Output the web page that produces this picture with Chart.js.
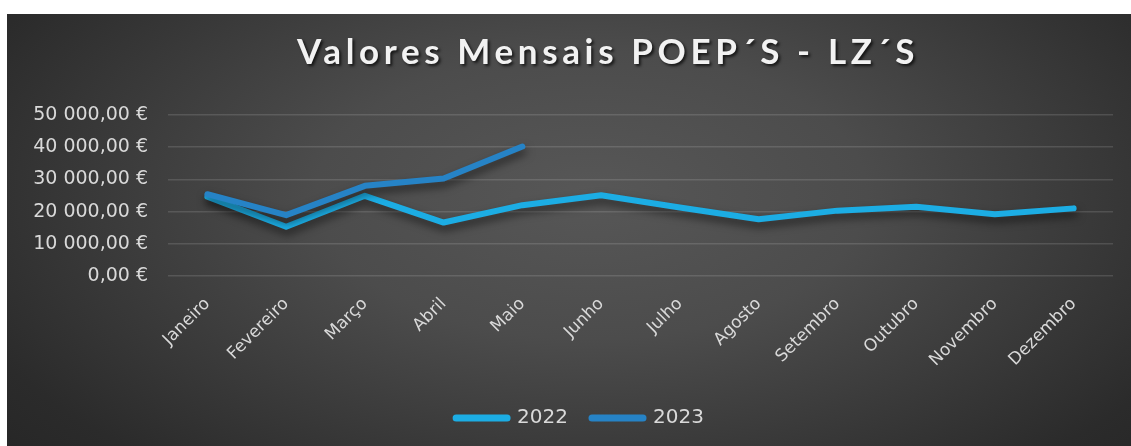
<!DOCTYPE html>
<html>
<head>
<meta charset="utf-8">
<script src="https://cdn.jsdelivr.net/npm/chart.js@4/dist/chart.umd.min.js"></script>
<style>
  html, body { margin: 0; padding: 0; background: #ffffff; }
  #box {
    position: absolute; left: 7px; top: 14px; width: 1124px; height: 432px;
    background: radial-gradient(ellipse 70% 95% at 52% 42%, #575757 0%, #4c4c4c 35%, #2b2b2b 85%, #262626 100%);
  }
</style>
</head>
<body>
<div id="box"><canvas id="chart" width="1124" height="432"></canvas></div>
<script>
// dados
const meses = ["Janeiro", "Fevereiro", "Março", "Abril", "Maio", "Junho", "Julho",
               "Agosto", "Setembro", "Outubro", "Novembro", "Dezembro"];
const valores2022 = [24600, 15300, 24900, 16600, 22000, 25100, 21300, 17600, 20300, 21500, 19200, 21000];
const valores2023 = [25400, 18900, 28000, 30300, 40200];
const titulo = "Valores Mensais POEP´S - LZ´S";

const FONTE = "'DejaVu Sans', sans-serif";
const FONTE_TITULO = "Lato, 'Open Sans', sans-serif";
const CINZA = "#d9d9d9";
const FUNDO_AREA = 262; // base da área do gráfico (px no canvas)

// formato "50 000,00 €"
function euro(v) {
    const partes = Number(v).toFixed(2).split(".");
    const inteiro = partes[0].replace(/\B(?=(\d{3})+(?!\d))/g, " ");
    return inteiro + "," + partes[1] + " €";
}

// sombra por baixo das linhas
const sombraLinhas = {
    id: "sombraLinhas",
    beforeDatasetsDraw(chart) {
        const ctx = chart.ctx;
        ctx.save();
        ctx.shadowColor = "rgba(0,0,0,0.55)";
        ctx.shadowBlur = 9;
        ctx.shadowOffsetY = 5;
        ctx.shadowOffsetX = 1;
    },
    afterDatasetsDraw(chart) {
        chart.ctx.restore();
    }
};

// legenda um pouco à direita, como no original
const moverLegenda = {
    id: "moverLegenda",
    afterLayout(chart) {
        if (chart.legend) {
            chart.legend.left += 20;
            chart.legend.right += 20;
        }
    }
};

// título com espaçamento entre letras
const tituloPlugin = {
    id: "tituloPlugin",
    afterDraw(chart) {
        const ctx = chart.ctx;
        ctx.save();
        ctx.font = "bold 35px " + FONTE_TITULO;
        ctx.letterSpacing = "0px";
        const w = ctx.measureText(titulo).width;
        const espaco = (622 - w) / titulo.length;
        ctx.letterSpacing = espaco + "px";
        ctx.fillStyle = "#f2f2f2";
        ctx.textAlign = "left";
        ctx.textBaseline = "alphabetic";
        ctx.shadowColor = "rgba(0,0,0,0.7)";
        ctx.shadowBlur = 3;
        ctx.shadowOffsetX = 2;
        ctx.shadowOffsetY = 2;
        ctx.fillText(titulo, 290, 50);
        ctx.restore();
    }
};

const ctx = document.getElementById("chart").getContext("2d");
new Chart(ctx, {
    type: "line",
    data: {
        labels: meses,
        datasets: [
            {
                label: "2022",
                data: valores2022,
                borderColor: "#1cade4",
                backgroundColor: "#1cade4",
                borderWidth: 6,
                borderCapStyle: "round",
                borderJoinStyle: "round",
                pointRadius: 0,
                tension: 0,
                order: 1
            },
            {
                label: "2023",
                data: valores2023,
                borderColor: "#2683c6",
                backgroundColor: "#2683c6",
                borderWidth: 6,
                borderCapStyle: "round",
                borderJoinStyle: "round",
                pointRadius: 0,
                tension: 0,
                order: 0
            }
        ]
    },
    options: {
        responsive: false,
        animation: false,
        layout: {
            padding: { top: 101, right: 18, bottom: 8, left: 0 }
        },
        plugins: {
            title: { display: false },
            tooltip: { enabled: false },
            legend: {
                position: "bottom",
                labels: {
                    color: CINZA,
                    font: { family: FONTE, size: 20 },
                    usePointStyle: true,
                    pointStyle: "line",
                    pointStyleWidth: 51,
                    padding: 24,
                    sort: (a, b) => a.datasetIndex - b.datasetIndex,
                    generateLabels(chart) {
                        const itens = Chart.defaults.plugins.legend.labels.generateLabels(chart);
                        itens.forEach(it => {
                            it.lineWidth = 7;
                            it.lineCap = "round";
                            it.pointStyle = "line";
                        });
                        return itens;
                    }
                }
            }
        },
        scales: {
            x: {
                offset: true,
                afterFit(scale) {
                    const leg = scale.chart.legend ? scale.chart.legend.height : 0;
                    scale.height = 432 - 8 - leg - FUNDO_AREA;
                },
                grid: { display: false },
                border: { display: false },
                ticks: {
                    color: CINZA,
                    font: { family: FONTE, size: 17 },
                    minRotation: 45,
                    maxRotation: 45,
                    padding: 10
                }
            },
            y: {
                min: 0,
                max: 50000,
                afterFit(scale) { scale.width = 161; },
                grid: {
                    color: "rgba(255,255,255,0.13)",
                    lineWidth: 1.5,
                    drawTicks: false
                },
                border: { display: false },
                ticks: {
                    stepSize: 10000,
                    color: CINZA,
                    font: { family: FONTE, size: 19 },
                    padding: 20,
                    callback: v => euro(v)
                }
            }
        }
    },
    plugins: [sombraLinhas, moverLegenda, tituloPlugin]
});
</script>
</body>
</html>
